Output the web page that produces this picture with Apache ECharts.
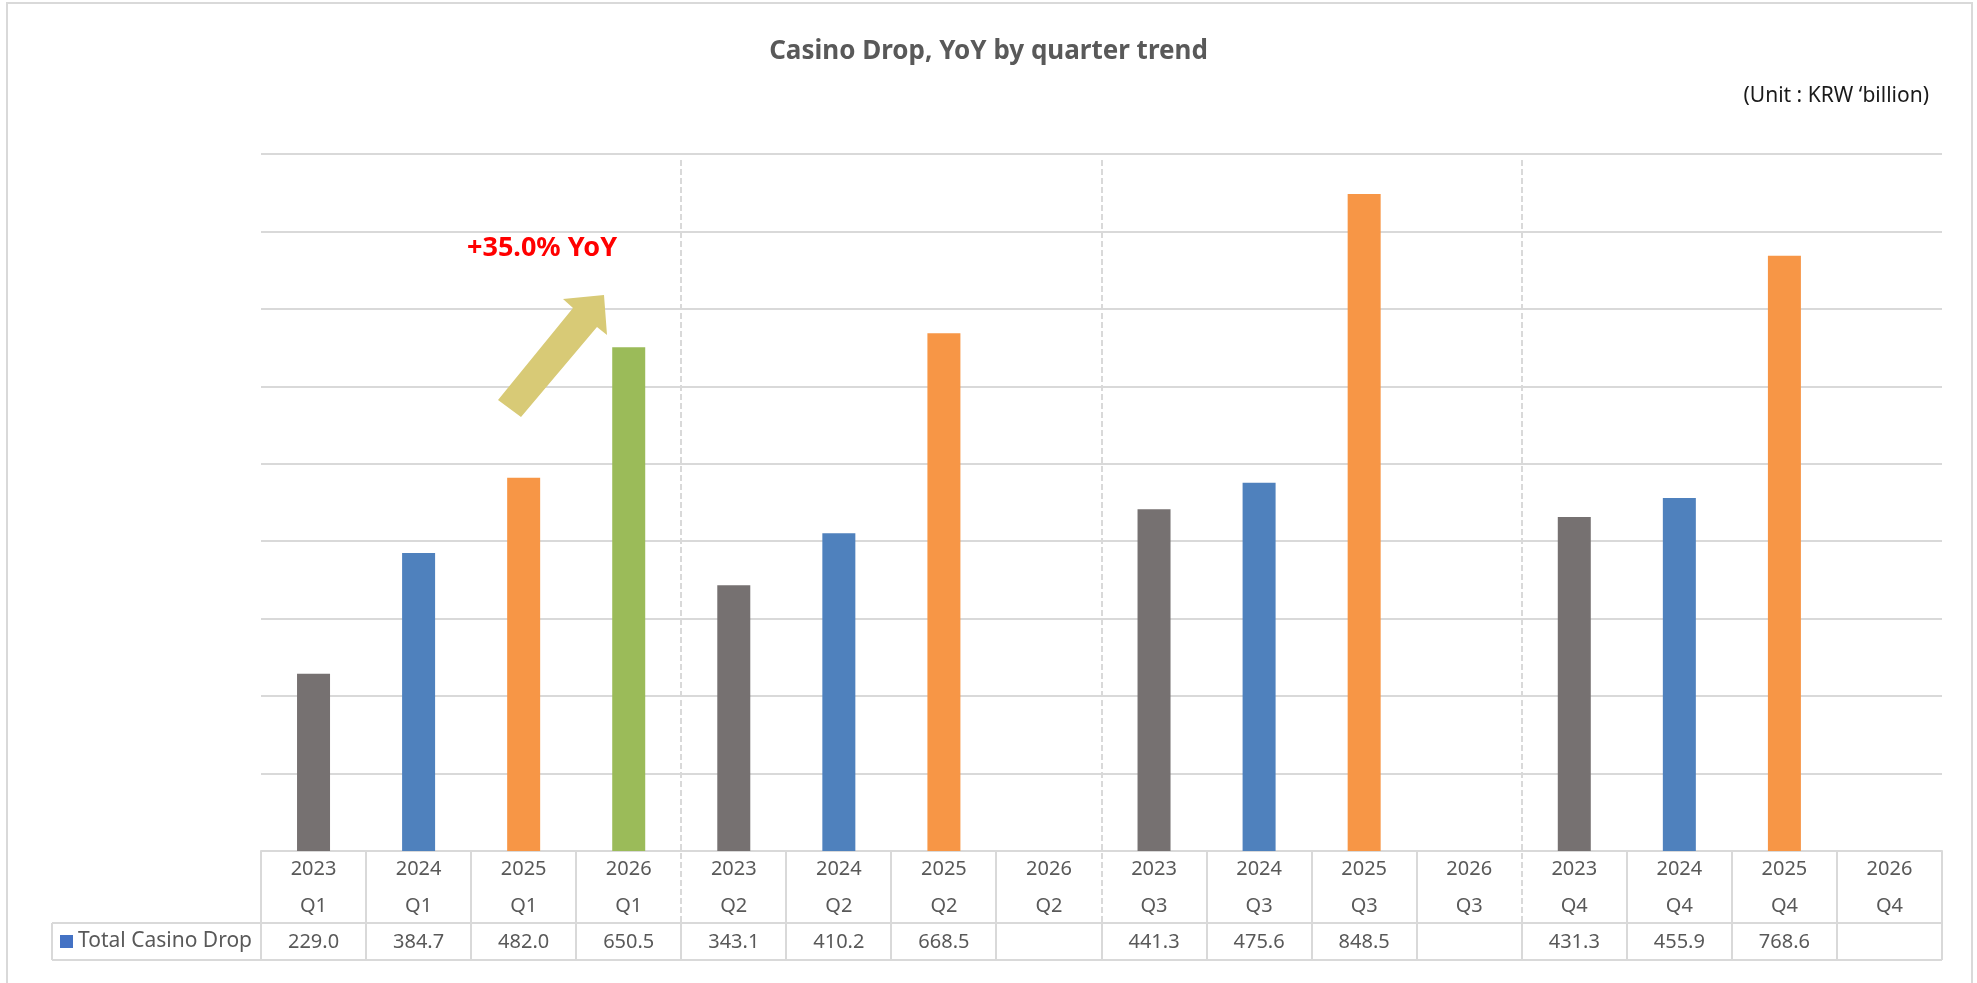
<!DOCTYPE html>
<html>
<head>
<meta charset="utf-8">
<script src="https://cdn.jsdelivr.net/npm/echarts@6/dist/echarts.min.js"></script>
<style>
html, body { margin: 0; padding: 0; background: #fff; }
#main { width: 1977px; height: 983px; }
</style>
</head>
<body>
<div id="main"></div>
<script>
// quarterly casino drop, KRW billion
var years = ['2023', '2024', '2025', '2026'];
var quarters = ['Q1', 'Q2', 'Q3', 'Q4'];
var drop = [229.0, 384.7, 482.0, 650.5,
            343.1, 410.2, 668.5, null,
            441.3, 475.6, 848.5, null,
            431.3, 455.9, 768.6, null];
var yearColors = ['#767171', '#4F81BD', '#F79646', '#9BBB59'];
var yoyText = '+35.0% YoY';

var cats = [];
var barData = [];
quarters.forEach(function (q, qi) {
    years.forEach(function (y, yi) {
        var i = qi * 4 + yi;
        cats.push(y + '\n' + q);
        barData.push({ value: drop[i], itemStyle: { color: yearColors[yi] } });
    });
});

var gridColor = '#d9d9d9';
var textColor = '#595959';
var font = 'Noto Sans';

var myChart = echarts.init(document.getElementById('main'));

var option = {
    animation: false,
    title: {
        text: 'Casino Drop, YoY by quarter trend',
        left: 'center',
        top: 34,
        textStyle: { fontFamily: font, fontSize: 26, fontWeight: 'bold', color: textColor }
    },
    legend: {
        left: 60,
        top: 931,
        padding: 0,
        icon: 'rect',
        itemWidth: 13,
        itemHeight: 13,
        itemGap: 6,
        selectedMode: false,
        textStyle: { fontFamily: font, fontSize: 21, color: textColor }
    },
    grid: { left: 261, right: 35, top: 154, bottom: 132 },
    xAxis: [{
        type: 'category',
        data: cats,
        axisLine: { lineStyle: { color: gridColor, width: 2 } },
        axisTick: { show: false },
        axisLabel: {
            interval: 0,
            margin: 0,
            fontFamily: font,
            fontSize: 20,
            lineHeight: 37,
            color: textColor
        }
    }, {
        type: 'category',
        data: cats,
        position: 'bottom',
        axisLine: { show: false },
        axisTick: { show: false },
        axisLabel: {
            interval: 0,
            margin: 81,
            fontFamily: font,
            fontSize: 20,
            lineHeight: 20,
            color: textColor,
            formatter: function (v, i) {
                return drop[i] == null ? '' : drop[i].toFixed(1);
            }
        }
    }],
    yAxis: {
        type: 'value',
        min: 0,
        max: 900,
        interval: 100,
        axisLabel: { show: false },
        axisLine: { show: false },
        axisTick: { show: false },
        splitLine: { lineStyle: { color: gridColor, width: 2 } }
    },
    series: [{
        name: 'Total Casino Drop',
        type: 'bar',
        barWidth: 33,
        itemStyle: { color: '#4472C4' },
        data: barData
    }]
};

myChart.setOption(option);

// table lines + annotation
var x0 = myChart.convertToPixel({ xAxisIndex: 0 }, 0);
var band = myChart.convertToPixel({ xAxisIndex: 0 }, 1) - x0;
var left = x0 - band / 2;
var base = myChart.convertToPixel({ yAxisIndex: 0 }, 0);
var topY = myChart.convertToPixel({ yAxisIndex: 0 }, 900);
var midY = base + 72;
var botY = base + 109;
var lineStyle = { stroke: gridColor, lineWidth: 2 };
var dashStyle = { stroke: gridColor, lineWidth: 2, lineDash: [6, 3] };

function seg(x1, y1, x2, y2, st) {
    return { type: 'line', silent: true, z: 5,
        shape: { x1: x1, y1: y1, x2: x2, y2: y2 }, style: st };
}

var els = [];
var right = left + band * cats.length;
els.push(seg(52, midY, right, midY, lineStyle));
els.push(seg(52, botY, right, botY, lineStyle));
els.push(seg(52, midY, 52, botY, lineStyle));
for (var i = 0; i <= cats.length; i++) {
    var x = Math.round(left + i * band);
    if (i % 4 === 0 && i > 0 && i < cats.length) {
        els.push(seg(x, topY + 6, x, midY, dashStyle));
        els.push(seg(x, midY, x, botY, lineStyle));
    } else {
        els.push(seg(x, base, x, botY, lineStyle));
    }
}

// outer frame
els.push({ type: 'rect', silent: true, shape: { x: 7, y: 3, width: 1965, height: 1000 },
    style: { fill: 'none', stroke: gridColor, lineWidth: 2 } });

// unit note
els.push({ type: 'text', right: 48, top: 86,
    style: { text: "(Unit : KRW \u2018billion)", fontFamily: font, fontSize: 21, fill: '#1a1a1a' } });

// yoy arrow and text
els.push({ type: 'polygon', silent: true,
    shape: { points: [[498, 400], [521, 417], [597, 327], [607, 335], [604, 295], [563, 299], [573, 308]] },
    style: { fill: '#D8CA76' } });
els.push({ type: 'text', left: 467, top: 235,
    style: { text: yoyText, fontFamily: font, fontSize: 27, fontWeight: 'bold', fill: '#FF0000' } });

myChart.setOption({ graphic: { elements: els } });
</script>
</body>
</html>
